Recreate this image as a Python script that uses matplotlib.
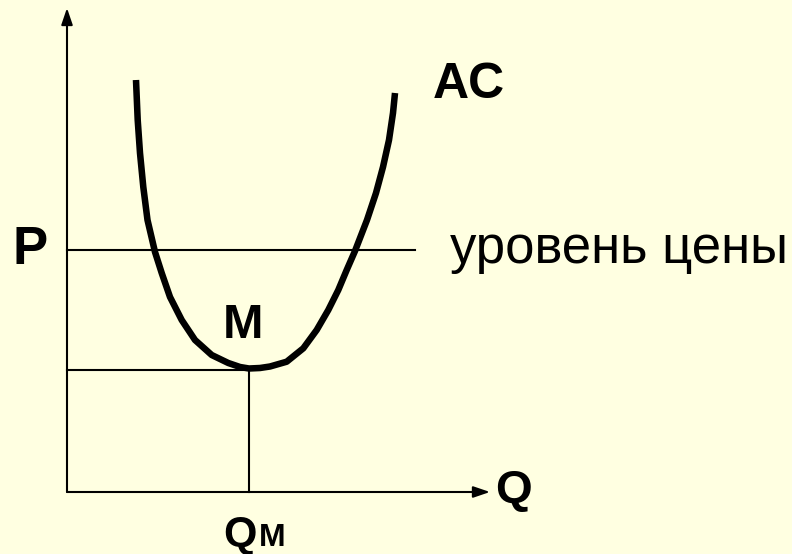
import matplotlib
matplotlib.use("Agg")
import matplotlib.pyplot as plt

# AC curve (Q on x, P on y, origin at the axes corner)
ac_q = [69, 70.7, 73, 76.3, 80.5, 88, 94.7, 103, 114.7, 128, 144.7, 161.3, 173, 182, 193,
        203, 219.7, 236.3, 249.7, 261.3, 271.3, 279.7, 288, 300, 309, 316, 322, 326, 328]
ac_p = [412, 372, 339, 305, 272, 240, 219, 195, 172, 152, 137, 129, 125, 123.5, 124,
        125.5, 130.3, 143.7, 162, 182, 202, 222, 241, 272, 299, 325, 352, 379, 399]

# minimum point M and price level
q_m, p_m = 182, 122
price_level = 242
price_line_end = 348

# axis extents
q_axis_end = 423
p_axis_end = 484

bg = "#FFFFE1"
font = "Liberation Sans"

fig = plt.figure(figsize=(7.92, 5.54), dpi=100, facecolor=bg)
ax = fig.add_axes([0, 0, 1, 1])
ax.set_facecolor(bg)
ax.set_xlim(-67, 725)
ax.set_ylim(-62, 492)
ax.axis("off")

# axes with arrows
arrow = dict(arrowstyle="-|>,head_length=0.5,head_width=0.17", lw=1.5,
             color="black", mutation_scale=20, shrinkA=0, shrinkB=0)
ax.annotate("", xy=(0, p_axis_end), xytext=(0, 0), arrowprops=arrow)
ax.annotate("", xy=(q_axis_end, 0), xytext=(0, 0), arrowprops=arrow)

# price level and guide lines to M
ax.plot([0, price_line_end], [price_level, price_level], color="black", lw=1.5)
ax.plot([0, q_m], [p_m, p_m], color="black", lw=1.5)
ax.plot([q_m, q_m], [p_m, 0], color="black", lw=1.5)

# AC curve
ax.plot(ac_q, ac_p, color="black", lw=4.7, solid_capstyle="butt", solid_joinstyle="round")

# labels
ax.text(366, 394, "AC", fontsize=36, fontweight="bold", family=font, va="baseline", ha="left")
ax.text(-54, 228, "P", fontsize=38, fontweight="bold", family=font, va="baseline", ha="left")
ax.text(383, 229, "уровень цены", fontsize=38, family=font, va="baseline", ha="left")
ax.text(156, 154, "M", fontsize=35, fontweight="bold", family=font, va="baseline", ha="left")
ax.text(428, -11, "Q", fontsize=34, fontweight="bold", family=font, va="baseline", ha="left")
ax.text(156, -54, "Q", fontsize=31, fontweight="bold", family=font, va="baseline", ha="left")
ax.text(192, -54, "M", fontsize=23, fontweight="bold", family=font, va="baseline", ha="left")

fig.savefig("out.png", dpi=100, facecolor=bg)
